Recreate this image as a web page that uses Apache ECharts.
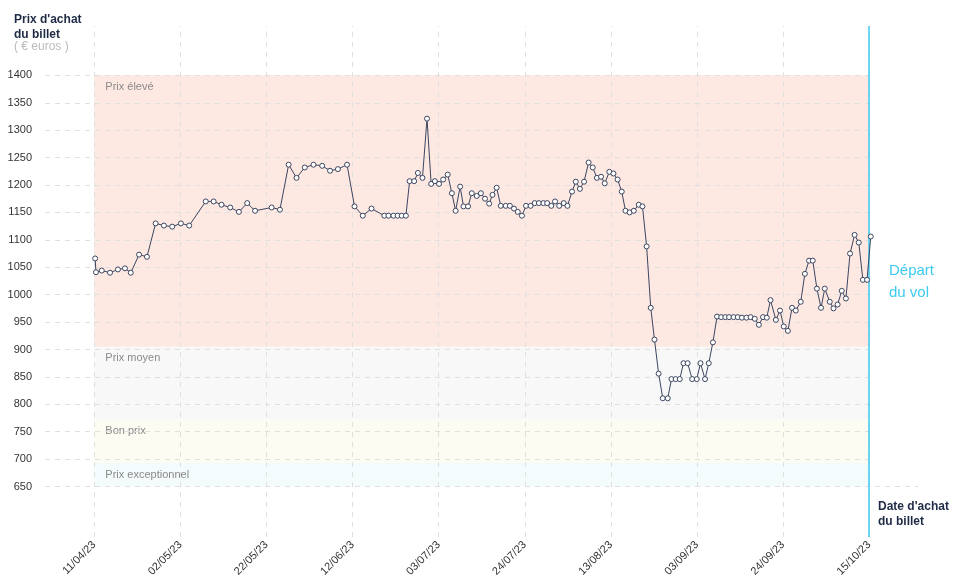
<!DOCTYPE html>
<html>
<head>
<meta charset="utf-8">
<script src="https://cdn.jsdelivr.net/npm/echarts@6/dist/echarts.min.js"></script>
<style>
  html, body { margin: 0; padding: 0; background: #fff; }
  #chart { width: 958px; height: 585px; }
</style>
</head>
<body>
<div id="chart"></div>
<script>
// dates affichées sous l'axe (une tous les 9e de la période)
var tickLabels = ['11/04/23', '02/05/23', '22/05/23', '12/06/23', '03/07/23',
  '24/07/23', '13/08/23', '03/09/23', '24/09/23', '15/10/23'];
var finJour = 187; // 15/10/23, jours depuis le 11/04/23

// prix relevés : jour depuis le 11/04/23 et prix en euros
var jours = [0.2, 0.4, 1.8, 3.8, 5.7, 7.4, 8.8, 10.8, 12.7, 14.8, 16.8, 18.8, 20.9, 22.9, 26.9, 28.8, 30.7, 32.8, 34.9, 36.9, 38.8, 42.8, 44.8,
  46.9, 48.8, 50.8, 52.9, 55.0, 56.9, 58.8, 61.0, 62.8, 64.8, 66.9, 70.0, 71.0, 72.2, 73.2, 74.2, 75.2, 76.1, 77.2, 78.1, 79.2, 80.3, 81.3, 82.2, 83.2, 84.2, 85.3,
  86.3, 87.2, 88.3, 89.1, 90.2, 91.1, 92.3, 93.3, 94.3, 95.3, 96.1, 97.1, 98.1, 99.3, 100.3, 101.3, 102.2, 103.2, 104.2, 105.3,
  106.3, 107.3, 108.4, 109.3, 110.3, 111.2, 112.2, 113.3, 114.2, 115.3, 116.2, 117.2, 118.2, 119.3, 120.3, 121.3, 122.3, 123.2, 124.3, 125.3, 126.3,
  127.3, 128.2, 129.2, 130.2, 131.4, 132.3, 133.3, 134.3, 135.2, 136.2, 137.2, 138.4, 139.3, 140.3, 141.3, 142.2, 143.2, 144.3, 145.4, 146.3,
  147.4, 148.3, 149.3, 150.3,
  151.3, 152.3, 153.2, 154.3, 155.3, 156.3, 157.4, 158.4, 159.4, 160.4, 161.4, 162.3, 163.2, 164.5, 165.5, 166.4, 167.4, 168.4, 169.3, 170.5,
  171.5, 172.5, 173.4, 174.4, 175.4, 176.3, 177.5, 178.4, 179.4, 180.4, 181.4, 182.4, 183.5, 184.5, 185.5, 186.5, 187.4];
var prix = [1066, 1041, 1044, 1040, 1046, 1048, 1040, 1073, 1069, 1130, 1126, 1124, 1130, 1126, 1170, 1170, 1164, 1159, 1151, 1167, 1153, 1159, 1155,
  1237, 1213, 1232, 1237, 1235, 1226, 1229, 1237, 1161, 1144, 1157, 1144, 1144, 1144, 1144, 1144, 1144, 1207, 1207, 1222, 1213, 1321, 1202, 1207, 1202, 1210, 1219,
  1185, 1153, 1197, 1161, 1161, 1185, 1180, 1185, 1175, 1166, 1182, 1195, 1162, 1162, 1162, 1157, 1151, 1144, 1162, 1162,
  1167, 1167, 1167, 1167, 1162, 1170, 1162, 1167, 1162, 1188, 1206, 1193, 1206, 1241, 1232, 1213, 1215, 1203, 1224, 1221, 1210,
  1188, 1153, 1150, 1153, 1164, 1161, 1088, 976, 918, 856, 811, 811, 846, 846, 846, 875, 875, 846, 846, 875,
  846, 875, 913, 960,
  959, 959, 959, 959, 959, 958, 958, 959, 956, 945, 959, 958, 990, 954, 971, 942, 934, 976, 971, 987,
  1038, 1062, 1062, 1011, 976, 1011, 987, 975, 982, 1007, 993, 1075, 1109, 1095, 1027, 1027, 1106];

// graduations de l'axe des prix
var yTicks = [650, 700, 750, 800, 850, 900, 950, 1000, 1050, 1100, 1150, 1200, 1250, 1300, 1350, 1400];

// zones de prix
var zoneNoms = ['Prix élevé', 'Prix moyen', 'Bon prix', 'Prix exceptionnel'];
var zoneHaut = [1400, 905, 772, 693];
var zoneBas = [905, 772, 693, 650];
var zoneCouleurs = ['#fee8e2', '#f8f8f8', '#fcfcf2', '#f3fbfd'];

var xMin = -11.9, xMax = 198.8;
var gris = '#e0e0e0';
var marine = '#3b4660';
var cyan = '#3ccaf0';

var tickPos = tickLabels.map(function (l, i) { return i * finJour / (tickLabels.length - 1); });

var chart = echarts.init(document.getElementById('chart'));

var lignesGrille = [];
tickPos.forEach(function (t) { lignesGrille.push({ xAxis: t }); });
yTicks.forEach(function (v) {
  lignesGrille.push([{ coord: [xMin, v] }, { coord: [v === 650 ? xMax : finJour, v] }]);
});

var option = {
  animation: false,
  textStyle: { fontFamily: 'Liberation Sans, Arial, sans-serif' },
  grid: { left: 45, right: 40, top: 26, bottom: 48 },
  xAxis: {
    type: 'value',
    min: xMin,
    max: xMax,
    axisLine: { show: false },
    axisTick: { show: false },
    splitLine: { show: false },
    axisLabel: {
      customValues: tickPos,
      rotate: 45,
      margin: 6,
      fontSize: 11,
      color: '#333',
      formatter: function (v) {
        return tickLabels[Math.round(v * (tickLabels.length - 1) / finJour)];
      }
    }
  },
  yAxis: {
    type: 'value',
    min: 558,
    max: 1490,
    axisLine: { show: false },
    axisTick: { show: false },
    splitLine: { show: false },
    axisLabel: {
      customValues: yTicks,
      margin: 13,
      fontSize: 11,
      color: '#333',
      padding: [0, 0, 9, 0],
      formatter: function (v) { return String(v); }
    }
  },
  graphic: [
    {
      type: 'text', left: 14, top: 12,
      style: { text: "Prix d'achat\ndu billet", font: 'bold 12px Liberation Sans, Arial, sans-serif', lineHeight: 15, fill: '#1f2b46' }
    },
    {
      type: 'text', left: 14, top: 41,
      style: { text: '( € euros )', font: '12px Liberation Sans, Arial, sans-serif', fill: '#bbbbbb' }
    },
    {
      type: 'text', left: 878, top: 499,
      style: { text: "Date d'achat\ndu billet", font: 'bold 12px Liberation Sans, Arial, sans-serif', lineHeight: 15, fill: '#1f2b46' }
    },
    {
      type: 'text', left: 889, top: 260,
      style: { text: 'Départ\ndu vol', font: '15px Liberation Sans, Arial, sans-serif', lineHeight: 22, fill: cyan }
    }
  ],
  series: [
    {
      type: 'line',
      data: [],
      silent: true,
      markArea: {
        silent: true,
        data: zoneNoms.map(function (nom, i) {
          return [
            { name: nom, coord: [0, zoneHaut[i]], itemStyle: { color: zoneCouleurs[i] } },
            { coord: [finJour, zoneBas[i]] }
          ];
        }),
        label: {
          show: true,
          position: 'insideTopLeft',
          distance: 6,
          offset: [5, 0],
          fontSize: 11,
          color: '#8a8a8a'
        }
      }
    },
    {
      type: 'line',
      data: [],
      silent: true,
      markLine: {
        silent: true,
        symbol: 'none',
        label: { show: false },
        lineStyle: { color: gris, type: [5, 5], width: 1 },
        data: lignesGrille
      }
    },
    {
      type: 'line',
      data: [],
      silent: true,
      markLine: {
        silent: true,
        symbol: 'none',
        label: { show: false },
        lineStyle: { color: cyan, type: 'solid', width: 1.5 },
        data: [{ xAxis: finJour }]
      }
    },
    {
      type: 'line',
      data: jours.map(function (j, i) { return [j, prix[i]]; }),
      symbol: 'circle',
      symbolSize: 5,
      lineStyle: { color: marine, width: 1 },
      itemStyle: { color: '#fff', borderColor: marine, borderWidth: 1 },
      z: 10
    }
  ]
};

chart.setOption(option);
</script>
</body>
</html>
